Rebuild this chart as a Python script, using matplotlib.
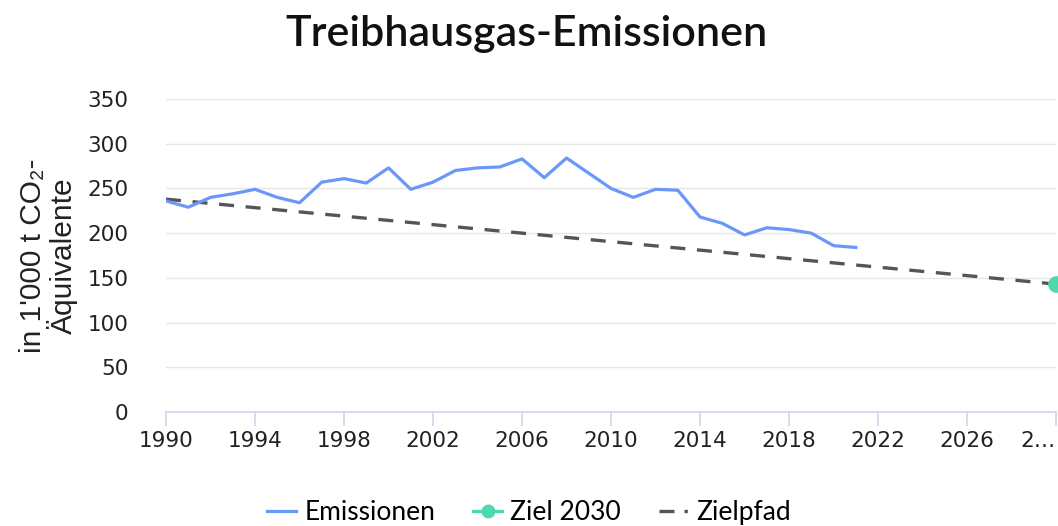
import matplotlib
matplotlib.use("Agg")
import matplotlib.pyplot as plt
import matplotlib.transforms as mtrans
from matplotlib.lines import Line2D

years = list(range(1990, 2022))
emissionen = [236, 229, 240, 244, 249, 240, 234, 257, 261, 256, 273, 249, 257, 270,
              273, 274, 283, 262, 284, 267, 250, 240, 249, 248, 218, 211, 198, 206,
              204, 200, 186, 184]
ziel_year = [2030]
ziel_value = [143]
pfad_years = [1990, 2030]
pfad_values = [238, 143]
xticks = list(range(1990, 2031, 4))
xticklabels = [str(y) for y in xticks[:-1]] + ["2…"]
yticks = list(range(0, 351, 50))

fig = plt.figure(figsize=(10.58, 5.26), dpi=100)
ax = fig.add_axes([0.1569, 0.2167, 0.8413, 0.5951])

blue = "#6a98f8"
green = "#4fd8b0"
gray = "#555555"

ax.plot(years, emissionen, color=blue, lw=2.3, solid_joinstyle="round", zorder=3)
ax.plot(pfad_years, pfad_values, color=gray, lw=2.4, dashes=(4.5, 3.5), zorder=2)
ax.plot(ziel_year, ziel_value, "o", color=green, ms=11, clip_on=False, zorder=4)

ax.set_xlim(1990, 2030)
ax.set_ylim(0, 350)
ax.set_xticks(xticks)
ax.set_xticklabels(xticklabels[:-1] + [""])
ax.set_yticks(yticks)
ax.grid(axis="y", color="#e6e6e6", lw=1)
ax.set_axisbelow(True)
for s in ["top", "right", "left"]:
    ax.spines[s].set_visible(False)
ax.spines["bottom"].set_color("#ccd6eb")
ax.spines["bottom"].set_linewidth(1.2)
ax.tick_params(axis="x", colors="#ccd6eb", length=10, width=1.2, labelcolor="#222222",
               labelsize=15.5, pad=4)
ax.tick_params(axis="y", length=0, labelcolor="#222222", labelsize=15.5, pad=27)

# last tick label, kept inside the figure
off = mtrans.ScaledTranslation(0, -14 / 72, fig.dpi_scale_trans)
ax.text(xticks[-1], 0, xticklabels[-1], transform=ax.get_xaxis_transform() + off,
        ha="right", va="top", fontsize=15.5, color="#222222")

ax.set_ylabel("in 1'000 t CO₂-\nÄquivalente", fontsize=21.5, color="#222222",
              family=["Liberation Sans", "DejaVu Sans"], labelpad=7, linespacing=0.98)

fig.text(0.498, 0.935, "Treibhausgas-Emissionen", ha="center", va="center",
         fontsize=31, family="Lato", weight=600, color="#111111")

handles = [
    Line2D([], [], color=blue, lw=2.3),
    Line2D([], [], color=green, lw=2.3, marker="o", ms=9),
    Line2D([], [], color=gray, lw=2.4, dashes=(4.5, 3, 1, 3)),
]
labels = ["Emissionen", "Ziel 2030", "Zielpfad"]
fig.legend(handles, labels, loc="center", bbox_to_anchor=(0.5, 0.025), ncol=3,
           frameon=False, prop={"family": "Lato", "size": 19}, handlelength=1.1,
           columnspacing=1.45, handletextpad=0.3)

fig.savefig("out.png", dpi=100)
